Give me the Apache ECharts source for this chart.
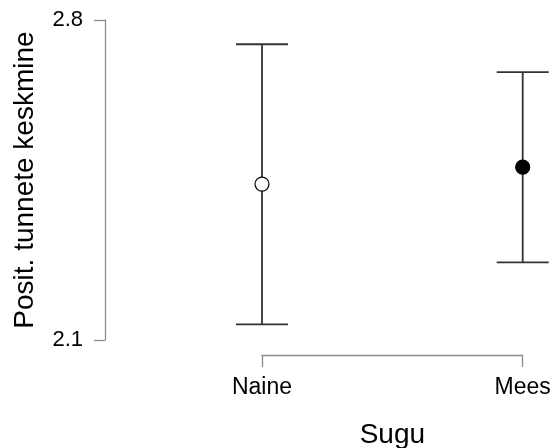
<!DOCTYPE html>
<html>
<head>
<meta charset="utf-8">
<script src="https://cdn.jsdelivr.net/npm/echarts@6/dist/echarts.min.js"></script>
<style>
html,body{margin:0;padding:0;background:#fff;}
#c{width:553px;height:448px;}
</style>
</head>
<body>
<div id="c"></div>
<script>
var categories = ['Naine', 'Mees'];
var means = [2.441, 2.478];
var lower = [2.134, 2.270];
var upper = [2.747, 2.686];
var fills = ['#ffffff', '#000000'];
var yTicks = [2.1, 2.8];

var chart = echarts.init(document.getElementById('c'), null, {renderer: 'canvas'});
var FONT = 'Liberation Sans, Arial, sans-serif';

var barData = categories.map(function (c, i) { return [i, lower[i], upper[i]]; });
var pointData = categories.map(function (c, i) {
  return {value: [i, means[i]], itemStyle: {color: fills[i]}};
});

chart.setOption({
  animation: false,
  backgroundColor: '#ffffff',
  grid: {left: 262, right: 30.3, top: 20, bottom: 108, containLabel: false, outerBoundsMode: 'none'},
  xAxis: {
    type: 'value', min: 0, max: categories.length - 1, interval: 1,
    offset: 15,
    name: 'Sugu', nameLocation: 'middle', nameGap: 66,
    nameTextStyle: {fontSize: 28, color: '#000', fontFamily: FONT, lineHeight: 28},
    splitLine: {show: false},
    axisLine: {show: true, onZero: false, lineStyle: {color: '#8c8c8c', width: 1.3}},
    axisTick: {show: true, length: 12, lineStyle: {color: '#8c8c8c', width: 1.3}},
    axisLabel: {
      margin: 21, fontSize: 23, lineHeight: 23, color: '#000', fontFamily: FONT,
      formatter: function (v) { return categories[Math.round(v)] || ''; }
    }
  },
  yAxis: {
    type: 'value', min: yTicks[0], max: yTicks[1], interval: 0.7,
    offset: 157,
    name: 'Posit. tunnete keskmine', nameLocation: 'middle', nameGap: 66, nameRotate: 90,
    nameTextStyle: {fontSize: 28, color: '#000', fontFamily: FONT, lineHeight: 28},
    splitLine: {show: false},
    axisLine: {show: true, onZero: false, lineStyle: {color: '#8c8c8c', width: 1.3}},
    axisTick: {show: true, length: 11, lineStyle: {color: '#8c8c8c', width: 1.3}},
    axisLabel: {
      margin: 22, fontSize: 22, color: '#000', fontFamily: FONT,
      formatter: function (v) { return Number(v).toFixed(1); }
    }
  },
  series: [
    {
      type: 'custom',
      clip: false,
      data: barData,
      renderItem: function (params, api) {
        var x = api.value(0);
        var lo = api.coord([x, api.value(1)]);
        var hi = api.coord([x, api.value(2)]);
        var hw = 26;
        var style = {stroke: '#333333', lineWidth: 1.8, fill: null};
        return {
          type: 'group',
          children: [
            {type: 'line', shape: {x1: lo[0], y1: lo[1], x2: hi[0], y2: hi[1]}, style: style},
            {type: 'line', shape: {x1: hi[0] - hw, y1: hi[1], x2: hi[0] + hw, y2: hi[1]}, style: style},
            {type: 'line', shape: {x1: lo[0] - hw, y1: lo[1], x2: lo[0] + hw, y2: lo[1]}, style: style}
          ]
        };
      },
      z: 2
    },
    {
      type: 'scatter',
      data: pointData,
      symbol: 'circle',
      symbolSize: 14,
      itemStyle: {borderColor: '#000000', borderWidth: 1.2, opacity: 1},
      z: 3
    }
  ]
});
</script>
</body>
</html>
